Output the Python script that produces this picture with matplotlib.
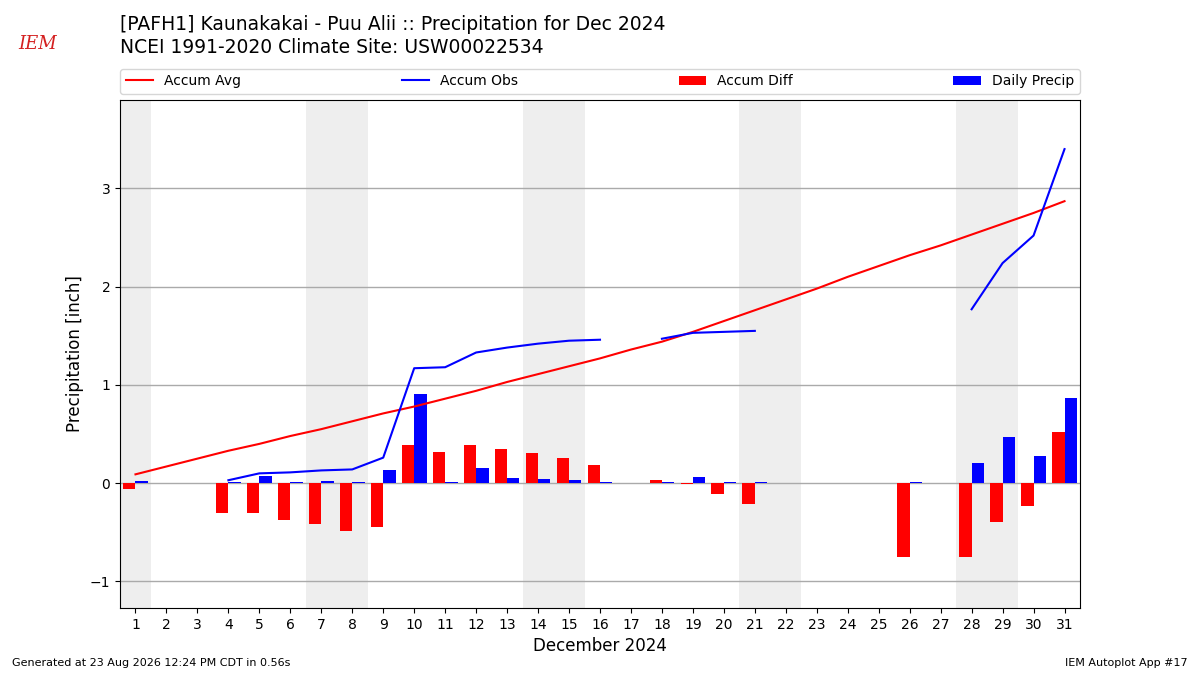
import numpy as np
import matplotlib.pyplot as plt

# datos
days = np.arange(1, 32)
nan = np.nan

accum_avg = [0.09, 0.17, 0.25, 0.33, 0.40, 0.48, 0.55, 0.63, 0.71, 0.78,
             0.86, 0.94, 1.03, 1.11, 1.19, 1.27, 1.36, 1.44, 1.54, 1.65,
             1.76, 1.87, 1.98, 2.10, 2.21, 2.32, 2.42, 2.53, 2.64, 2.75, 2.87]

accum_obs = [0.02, nan, nan, 0.03, 0.10, 0.11, 0.13, 0.14, 0.26, 1.17,
             1.18, 1.33, 1.38, 1.42, 1.45, 1.46, nan, 1.47, 1.53, 1.54,
             1.55, nan, nan, nan, nan, 1.57, nan, 1.77, 2.24, 2.52, 3.40]

accum_diff = [-0.06, nan, nan, -0.30, -0.30, -0.37, -0.42, -0.49, -0.45, 0.39,
              0.32, 0.39, 0.35, 0.31, 0.26, 0.19, nan, 0.03, -0.01, -0.11,
              -0.21, nan, nan, nan, nan, -0.75, nan, -0.75, -0.40, -0.23, 0.52]

daily_precip = [0.02, nan, nan, 0.01, 0.07, 0.01, 0.02, 0.01, 0.13, 0.91,
                0.01, 0.15, 0.05, 0.04, 0.03, 0.01, nan, 0.01, 0.06, 0.01,
                0.01, nan, nan, nan, nan, 0.01, nan, 0.21, 0.47, 0.28, 0.87]

# fines de semana (diciembre 2024 empieza en domingo)
weekend_spans = [(0.5, 1.5), (6.5, 8.5), (13.5, 15.5), (20.5, 22.5), (27.5, 29.5)]

fig = plt.figure(figsize=(12, 6.75), dpi=100)
ax = fig.add_axes([0.1, 0.0993, 0.8, 0.7526])

for x0, x1 in weekend_spans:
    ax.axvspan(x0, x1, color="#eeeeee", zorder=0, lw=0)

ax.bar(days - 0.2, accum_diff, width=0.4, color="red", label="Accum Diff", zorder=2)
ax.bar(days + 0.2, daily_precip, width=0.4, color="blue", label="Daily Precip", zorder=2)
ax.plot(days, accum_avg, color="red", lw=1.5, label="Accum Avg", zorder=3)
ax.plot(days, accum_obs, color="blue", lw=1.5, label="Accum Obs", zorder=3)

ax.set_xlim(0.5, 31.5)
ax.set_ylim(-1.27, 3.9)
ax.set_xticks(days)
ax.set_yticks([-1, 0, 1, 2, 3])
ax.tick_params(labelsize=10)
ax.grid(axis="y", color="#aaaaaa", lw=1, zorder=1)
ax.set_axisbelow(True)
ax.set_xlabel("December 2024", fontsize=12)
ax.set_ylabel("Precipitation [inch]", fontsize=12)

handles, labels = ax.get_legend_handles_labels()
order = ["Accum Avg", "Accum Obs", "Accum Diff", "Daily Precip"]
hmap = dict(zip(labels, handles))
ax.legend([hmap[k] for k in order], order, ncol=4, mode="expand",
          loc="lower left", bbox_to_anchor=(0, 1.012, 1, 0.05),
          fontsize=10, borderaxespad=0, frameon=True)

fig.text(0.1, 0.963, "[PAFH1] Kaunakakai - Puu Alii :: Precipitation for Dec 2024",
         fontsize=13.5, va="center", ha="left")
fig.text(0.1, 0.929, "NCEI 1991-2020 Climate Site: USW00022534",
         fontsize=13.5, va="center", ha="left")

# logo sencillo
fig.text(0.031, 0.935, "IEM", color="#d42020", fontsize=13, family="serif",
         style="italic", ha="center", va="center")

fig.text(0.01, 0.014, "Generated at 23 Aug 2026 12:24 PM CDT in 0.56s", fontsize=8)
fig.text(0.99, 0.014, "IEM Autoplot App #17", fontsize=8, ha="right")

fig.savefig("out.png")
